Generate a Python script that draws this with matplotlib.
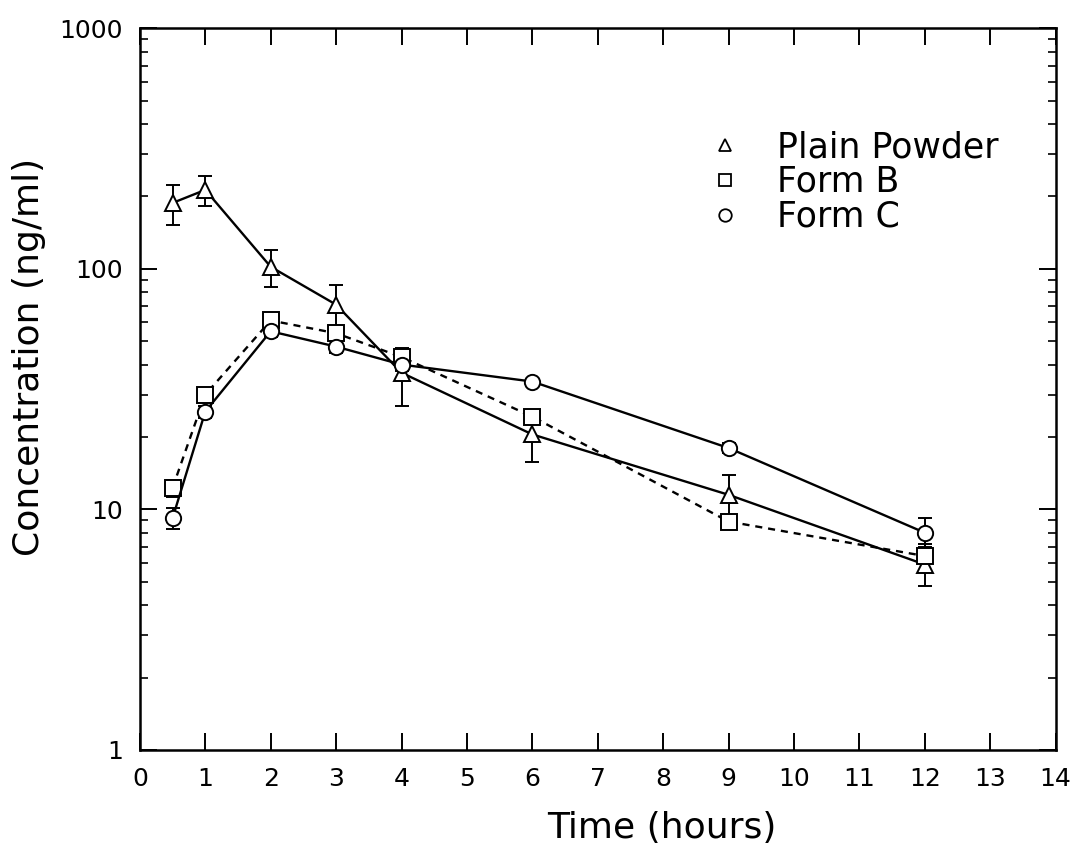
import numpy as np
import matplotlib.pyplot as plt
from matplotlib.ticker import LogLocator, NullFormatter

time = [0.5, 1, 2, 3, 4, 6, 9, 12]

# Plain Powder
plain = [188, 213, 102, 71, 37, 20.5, 11.5, 5.9]
plain_err = [36, 30, 18, 15, 10, 4.7, 2.4, 1.1]

# Form B
formb = [12.3, 30, 61, 54, 43, 24.3, 8.9, 6.4]
formb_err = [1.0, 2.0, 4.0, 4.0, 3.0, 1.5, 0.6, 0.8]

# Form C
formc = [9.2, 25.5, 55, 47.5, 40, 34, 18, 8.0]
formc_err = [0.9, 1.5, 3.0, 3.0, 2.5, 1.0, 0.8, 1.2]

plt.rcParams['font.family'] = ['DejaVu Sans']

fig = plt.figure(figsize=(10.76, 8.59), dpi=100)
ax = fig.add_axes([0.130, 0.127, 0.851, 0.840])

ebkw = dict(color='black', capsize=5, elinewidth=1.4, capthick=1.4,
            markerfacecolor='white', markeredgecolor='black',
            markeredgewidth=1.4, markersize=11)

ax.errorbar(time, plain, yerr=plain_err, fmt='-', marker='^', lw=1.7, **ebkw)
ax.errorbar(time, formb, yerr=formb_err, fmt='--', marker='s', lw=1.7,
            dashes=(3, 2.5), **ebkw)
ax.errorbar(time, formc, yerr=formc_err, fmt='-', marker='o', lw=1.7, **ebkw)

ax.set_yscale('log')
ax.set_ylim(1, 1000)
ax.set_xlim(0, 14)
ax.set_xticks(range(0, 15))
ax.set_yticks([1, 10, 100, 1000])
ax.set_yticklabels(['1', '10', '100', '1000'])
ax.yaxis.set_minor_locator(LogLocator(base=10, subs=np.arange(2, 10)))
ax.yaxis.set_minor_formatter(NullFormatter())

ax.tick_params(which='major', direction='in', length=12, width=1.4,
               top=True, right=True, labelsize=18, pad=12)
ax.tick_params(which='minor', direction='in', length=6, width=1.2,
               top=True, right=True)
for sp in ax.spines.values():
    sp.set_linewidth(1.8)

ax.set_xlabel('Time (hours)', fontsize=26)
ax.set_ylabel('Concentration (ng/ml)', fontsize=26)
ax.xaxis.set_label_coords(0.57, -0.085)
ax.yaxis.set_label_coords(-0.103, 0.545)

# legend: markers only
ax.plot([], [], ls='none', marker='^', ms=9, mfc='white', mec='black', mew=1.3, label='Plain Powder')
ax.plot([], [], ls='none', marker='s', ms=9, mfc='white', mec='black', mew=1.3, label='Form B')
ax.plot([], [], ls='none', marker='o', ms=9, mfc='white', mec='black', mew=1.3, label='Form C')
handles, labels = ax.get_legend_handles_labels()
ax.legend(handles[-3:], labels[-3:], loc='upper left', bbox_to_anchor=(0.605, 0.878),
          frameon=False, fontsize=25, handlelength=1.0, handletextpad=1.0,
          labelspacing=0.02, borderaxespad=0)

fig.savefig('out.png', dpi=100)
